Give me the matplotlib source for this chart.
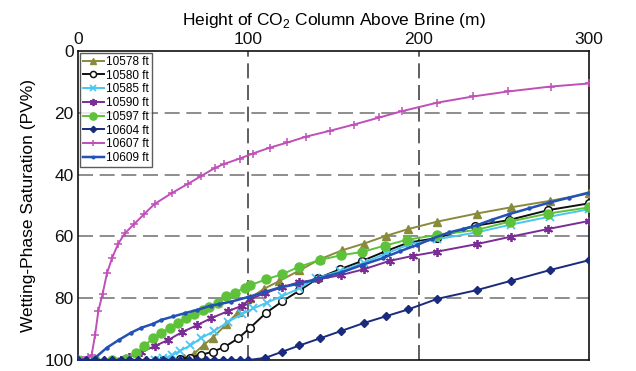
import matplotlib
matplotlib.use("Agg")
import matplotlib.pyplot as plt

plt.rcParams['font.family'] = ['Liberation Sans', 'DejaVu Sans']
plt.rcParams['mathtext.fontset'] = 'custom'
plt.rcParams['mathtext.rm'] = 'Liberation Sans'

# ---- data ----
x_10578 = [0, 40, 55, 62, 68, 74, 79, 87, 94, 101, 109, 118, 130, 142, 155, 168, 181, 194, 211, 234, 254, 277, 300]
y_10578 = [100, 100, 100, 99.5, 98, 95, 92.8, 88.5, 84.5, 80, 77, 74.5, 71, 67.4, 64.5, 62.3, 59.8, 57.6, 55.2, 52.6, 50.6, 48.5, 46.1]

x_10580 = [0, 50, 60, 66, 72, 79, 86, 94, 101, 110.5, 120, 130, 141, 154, 167, 181, 194, 211, 233, 253, 276, 300]
y_10580 = [100, 100, 99.6, 99.2, 98.4, 97.3, 95.8, 93, 89.6, 84.7, 81, 77.5, 73.5, 70.6, 67.9, 64.7, 62, 60.5, 56.6, 54.7, 51.5, 49.3]

x_10585 = [0, 45, 50, 55, 60, 66, 72, 80, 88, 96, 103, 111, 120, 130, 140, 154, 168, 181, 195, 211, 234, 254, 277, 300]
y_10585 = [100, 100, 99.5, 98.5, 97, 95.3, 93, 90.6, 87.7, 85.2, 83.3, 81.4, 79.3, 76.8, 73.5, 71.2, 68.5, 65.5, 62.5, 60.9, 58.7, 56.2, 53.6, 51.2]

x_10590 = [0, 25, 30, 37, 45, 53, 61, 70, 78, 88, 96, 101, 110, 120, 130, 141, 154.5, 168, 183, 196.6, 211, 234, 254, 276, 300]
y_10590 = [100, 100, 99, 97.5, 95.5, 93.5, 91, 88.7, 86.5, 84.2, 82.5, 80.3, 78.3, 76.4, 74.8, 73.9, 72.5, 70.6, 67.9, 66.3, 64.9, 62.5, 60.1, 57.6, 55]

x_10597 = [0, 10, 20, 28, 34, 39, 44, 49, 54, 58.6, 63.5, 68.4, 73.3, 77.2, 82, 87, 92, 98, 101, 110.5, 120, 130, 142, 154.5, 167, 180, 193, 211, 234, 253.5, 276, 300]
y_10597 = [100, 100, 100, 99.7, 97.7, 95.5, 92.8, 91.2, 89.6, 87.9, 86.5, 85.2, 83.9, 82.8, 81.4, 79.3, 78.2, 76.6, 75.8, 73.9, 72.2, 69.8, 67.6, 66.1, 65, 63, 61.1, 59.5, 57.9, 55.2, 52.6, 50.6]

x_10604 = [0, 5, 10, 15, 20, 25, 30, 35, 40, 45, 50, 55, 60, 65, 70, 75, 80, 85, 90, 95, 100, 110, 120, 130, 142, 154.5, 168, 181, 194, 211, 234, 254, 277, 300]
y_10604 = [100, 100, 100, 100, 100, 100, 100, 100, 100, 100, 100, 100, 100, 100, 100, 100, 100, 100, 100, 100, 100, 99.3, 97.3, 95.3, 93, 90.6, 88, 85.8, 83.6, 80.2, 77.4, 74.4, 70.9, 67.7]

x_10607 = [0, 3, 6, 8, 10, 12, 14.5, 17, 20, 23.5, 27.5, 33, 39, 45, 55, 64.5, 72.5, 80.5, 86, 95, 102.5, 112.5, 123, 134, 148, 162, 177, 190, 211, 232, 252.5, 277.5, 300]
y_10607 = [100, 100, 99, 98.5, 92, 84, 78.5, 72, 67, 62.5, 59, 56, 52.7, 49.5, 46, 43, 40.4, 37.8, 36.5, 34.8, 33.2, 31.3, 29.6, 27.7, 25.8, 23.8, 21.5, 19.5, 16.7, 14.7, 13.1, 11.5, 10.5]

x_10609 = [0, 8, 10, 17, 24, 31, 37, 44, 49, 56, 63, 70, 78, 83, 90, 100, 109, 118, 128, 138, 146, 155, 167, 179, 189, 199, 208, 218, 226, 234, 243, 253, 265, 277, 288, 300]
y_10609 = [100, 100, 99.3, 96, 93.5, 91.2, 89.6, 88.3, 87, 85.9, 84.8, 83.8, 82.4, 81.9, 81.1, 79.6, 78.1, 76.6, 75.5, 74.2, 72.9, 71.6, 69.2, 67, 64.8, 62.8, 60.7, 58.7, 57.6, 56.4, 54.6, 52.8, 50.9, 49, 47.5, 45.8]

labels = ['10578 ft', '10580 ft', '10585 ft', '10590 ft', '10597 ft', '10604 ft', '10607 ft', '10609 ft']
x_ticks = [0, 100, 200, 300]
y_ticks = [0, 20, 40, 60, 80, 100]

fig = plt.figure(figsize=(6.36, 3.71), dpi=100)
ax = fig.add_axes([0.1226, 0.0296, 0.8035, 0.8329])

lw = 1.4
ax.plot(x_10578, y_10578, color='#8a8a3c', lw=lw, marker='^', ms=6, label=labels[0], zorder=5)
ax.plot(x_10580, y_10580, color='#111111', lw=lw, marker='o', ms=5.5, mfc='white', mec='#111111', mew=1.1, label=labels[1], zorder=5)
ax.plot(x_10585, y_10585, color='#4cc6f0', lw=lw, marker='x', ms=5.5, mew=1.3, label=labels[2], zorder=5)
ax.plot(x_10590, y_10590, color='#7b2d96', lw=lw, marker=(6, 2, 0), ms=6.5, mew=1.3, label=labels[3], zorder=5)
ax.plot(x_10597, y_10597, color='#5dc23a', lw=lw, marker='o', ms=6.5, label=labels[4], zorder=5)
ax.plot(x_10604, y_10604, color='#1a2a7c', lw=lw, marker='D', ms=4, label=labels[5], zorder=6)
ax.plot(x_10607, y_10607, color='#c04fb8', lw=lw, marker='+', ms=6, mew=1.1, label=labels[6], zorder=5)
ax.plot(x_10609, y_10609, color='#2352b4', lw=lw + 0.4, marker='o', ms=2.2, label=labels[7], zorder=5)

ax.set_xlim(0, 300)
ax.set_ylim(100, 0)
ax.set_xticks(x_ticks)
ax.set_yticks(y_ticks)
ax.xaxis.tick_top()
ax.xaxis.set_label_position('top')
ax.tick_params(axis='both', length=0, labelsize=12.5, colors='#111111', pad=3)
ax.set_xlabel(r'Height of CO$_\mathregular{2}$ Column Above Brine (m)', fontsize=12.5, labelpad=5)
ax.set_ylabel('Wetting-Phase Saturation (PV%)', fontsize=12.5, labelpad=6)

for v in [100, 200]:
    ax.axvline(v, color='#444444', lw=1.2, ls=(0, (9, 4)), zorder=1)
for v in [20, 40, 60, 80]:
    ax.axhline(v, color='#7a7a7a', lw=1.2, ls=(0, (9, 4)), zorder=1)

for s in ax.spines.values():
    s.set_color('#111111')
    s.set_linewidth(1.2)

leg = ax.legend(loc='upper left', fontsize=8.5, handlelength=1.8, handletextpad=0.2,
                labelspacing=0.15, borderpad=0.25, borderaxespad=0.15, frameon=True,
                fancybox=False, markerscale=0.8)
leg.get_frame().set_edgecolor('#333333')
leg.get_frame().set_linewidth(1.0)

fig.savefig('out.png', dpi=100)
